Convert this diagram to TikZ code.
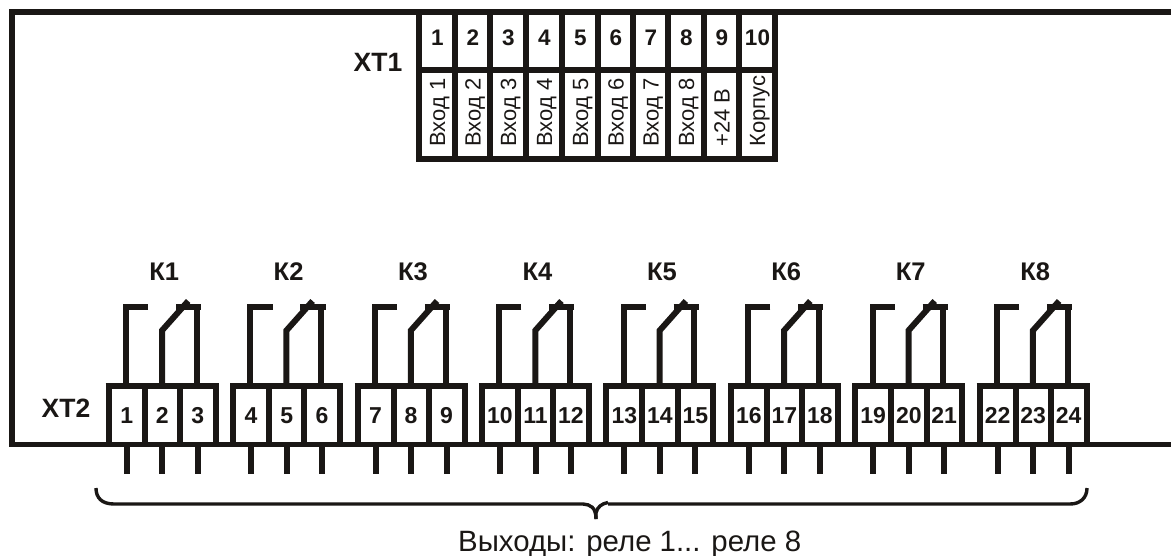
\documentclass[tikz,border=0pt]{standalone}
\usepackage{fontspec}
\setmainfont{Liberation Sans}
\definecolor{ink}{HTML}{1A1715}
\begin{document}
\begin{tikzpicture}[x=1pt,y=-1pt,
  wire/.style={draw=ink,line width=6pt,line cap=butt,line join=miter},
  thin wire/.style={draw=ink,line width=5pt},
  brace line/.style={draw=ink,line width=3.4pt},
  pin num/.style={text=ink,font=\fontsize{23}{23}\bfseries\selectfont,inner sep=0pt,anchor=base},
  top num/.style={text=ink,font=\fontsize{22.5}{22.5}\bfseries\selectfont,inner sep=0pt,anchor=base},
  vert text/.style={text=ink,font=\fontsize{22}{22}\selectfont,inner sep=0pt,rotate=90,anchor=base west},
  label text/.style={text=ink,font=\fontsize{26.5}{26.5}\bfseries\selectfont,inner sep=0pt,anchor=base},
  relay label/.style={text=ink,font=\fontsize{25.5}{25.5}\bfseries\selectfont,inner sep=0pt,anchor=base}]
\useasboundingbox (0,0) rectangle (1171,555);
% frame
\draw[wire] (1171,12) -- (12,12) -- (12,444);
\draw[thin wire] (9,444) -- (1171,444);
% XT1 table
\foreach \x/\n/\t [count=\i] in {437/1/Вход 1,472.5/2/Вход 2,508/3/Вход 3,544/4/Вход 4,580/5/Вход 5,615.5/6/Вход 6,650.5/7/Вход 7,686/8/Вход 8,721.5/9/+24 В,757/10/Корпус}{
  \node[top num] (num\i) at (\x+0.5,45.5) {\n};
  \node[vert text] (inp\i) at (\x+8,147) {\t};
}
\foreach \x in {419,455,490,526,562,598,633,668,704,739,775}{
  \draw[wire] (\x,12) -- (\x,159);
}
\draw[wire] (416,70) -- (778,70);
\draw[wire] (416,159) -- (778,159);
\node[label text] (xt1) at (378,71) {ХТ1};
\node[label text] (xt2) at (66,417) {ХТ2};
% relays
\foreach \g in {1,...,8}{
  \pgfmathsetmacro{\bx}{108.7+(\g-1)*124.42}
  \begin{scope}[shift={(\bx,0)}]
    \draw[wire] (-3,385.5) -- (110,385.5);
    \foreach \d in {0,36,71.3,107}{ \draw[wire] (\d,385.5) -- (\d,444); }
    \foreach \d in {18,53.6,89}{ \draw[wire] (\d,444) -- (\d,474); }
    \draw[wire] (39.5,307) -- (17.3,307) -- (17.3,385);
    \draw[wire] (53.3,385) -- (53.3,330.5) -- (79.5,301);
    \draw[wire] (88,385) -- (88,307);
    \draw[wire] (67.3,307) -- (92.5,307);
  \end{scope}
  \pgfmathtruncatemacro{\a}{3*\g-2}
  \pgfmathtruncatemacro{\b}{3*\g-1}
  \pgfmathtruncatemacro{\c}{3*\g}
  \node[relay label] (k\g) at (\bx+55.5,280) {К\g};
  \node[pin num] (p\a) at (\bx+18,423) {\a};
  \node[pin num] (p\b) at (\bx+53.6,423) {\b};
  \node[pin num] (p\c) at (\bx+89,423) {\c};
}
% brace
\coordinate (bl) at (96,488);
\coordinate (bc) at (596,519);
\coordinate (br) at (1087,488);
\draw[brace line] (bl) .. controls (96,498) and (102,504) .. (114,504) -- (583,504) .. controls (590,504.5) and (596,507) .. (bc);
\draw[brace line] (bc) -- (596,513) .. controls (597,507) and (602,503.5) .. (608,502.5);
\draw[brace line] (608,504) -- (1070,504) .. controls (1080,504) and (1087,498) .. (br);
\node[text=ink,font=\fontsize{29.4}{29.4}\selectfont,inner sep=0pt,anchor=base west] (out) at (458,551) {Выходы: реле 1... реле 8};
\end{tikzpicture}
\end{document}
